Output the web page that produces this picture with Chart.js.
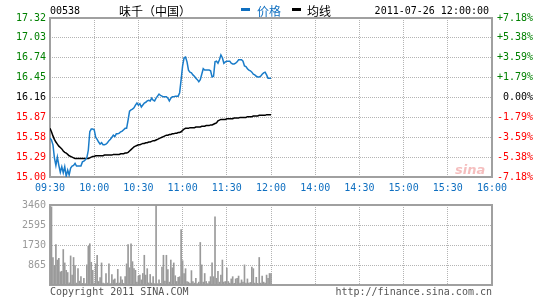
<!DOCTYPE html>
<html><head><meta charset="utf-8">
<script src="https://cdn.jsdelivr.net/npm/chart.js@4/dist/chart.umd.min.js"></script>
<style>
html,body{margin:0;padding:0;background:#fff;}
#wrap{position:relative;width:545px;height:300px;overflow:hidden;background:#fff;}
canvas{position:absolute;left:0;}
.t{position:absolute;white-space:nowrap;font-family:"DejaVu Sans Mono",monospace;font-size:10px;line-height:10px;}
.c{position:absolute;white-space:nowrap;font-family:"Noto Sans CJK SC",sans-serif;font-size:12px;line-height:12px;}
.bar{position:absolute;height:3px;width:9px;}
</style></head><body>
<div id="wrap">
<canvas id="pc" width="545" height="195" style="top:0"></canvas>
<canvas id="vc" width="545" height="105" style="top:195px"></canvas>
<div class="t" style="left:50px;top:6px;color:#000">00538</div>
<div class="c" style="left:119px;top:5px;color:#000">味千（中国）</div>
<div class="bar" style="left:241px;top:8px;background:#0f6fc0"></div>
<div class="c" style="left:257px;top:5px;color:#0f6fc0">价格</div>
<div class="bar" style="left:292px;top:8px;background:#000"></div>
<div class="c" style="left:307px;top:5px;color:#000">均线</div>
<div class="t" style="right:56px;top:6px;color:#000">2011-07-26 12:00:00</div>
<div class="t" style="left:50px;top:287px;color:#555">Copyright 2011 SINA.COM</div>
<div class="t" style="right:53px;top:287px;color:#555">http://finance.sina.com.cn</div>
<div style="position:absolute;left:455px;top:163px;font-family:'DejaVu Sans',sans-serif;font-style:italic;font-weight:bold;font-size:13px;line-height:13px;color:rgba(225,70,70,0.35)">sina</div>
</div>
<script>
const timeLabels = ['09:30','10:00','10:30','11:00','11:30','12:00','14:00','14:30','15:00','15:30','16:00'];
const priceTicks = [15.00,15.29,15.58,15.87,16.16,16.45,16.74,17.03,17.32];
const pctLabels = ['-7.18%','-5.38%','-3.59%','-1.79%','0.00%','+1.79%','+3.59%','+5.38%','+7.18%'];
const prevClose = 16.16;
const volTicks = [0,865,1730,2595,3460];

const priceVals = [
15.57,15.54,15.47,15.28,15.17,15.29,15.17,15.07,15.15,15.06,
15.15,15.01,15.10,15.03,15.13,15.16,15.17,15.20,15.16,15.16,
15.16,15.16,15.22,15.23,15.25,15.28,15.39,15.66,15.70,15.70,
15.69,15.58,15.55,15.51,15.48,15.50,15.47,15.47,15.48,15.50,
15.53,15.55,15.58,15.61,15.59,15.63,15.63,15.64,15.66,15.67,
15.69,15.71,15.71,15.83,15.96,15.98,15.99,16.01,16.05,16.08,
16.05,16.07,16.02,16.05,16.08,16.09,16.11,16.12,16.11,16.15,
16.12,16.11,16.15,16.18,16.21,16.19,16.18,16.17,16.17,16.17,
16.15,16.11,16.15,16.17,16.17,16.18,16.18,16.18,16.23,16.42,
16.62,16.74,16.75,16.68,16.56,16.53,16.52,16.49,16.47,16.44,
16.42,16.39,16.42,16.50,16.58,16.56,16.56,16.56,16.56,16.55,
16.46,16.47,16.68,16.69,16.66,16.71,16.78,16.74,16.66,16.68,
16.69,16.69,16.69,16.66,16.65,16.65,16.66,16.68,16.71,16.71,
16.71,16.69,16.62,16.61,16.58,16.56,16.55,16.53,16.50,16.49,
16.47,16.46,16.46,16.47,16.50,16.52,16.53,16.49,16.44,16.44,
16.44];

const avgVals = [
15.71,15.66,15.60,15.55,15.51,15.48,15.45,15.43,15.41,15.38,
15.36,15.35,15.33,15.31,15.30,15.29,15.28,15.27,15.27,15.27,
15.27,15.27,15.27,15.27,15.27,15.27,15.27,15.28,15.29,15.30,
15.30,15.31,15.31,15.31,15.31,15.31,15.31,15.32,15.32,15.32,
15.32,15.32,15.32,15.33,15.33,15.33,15.33,15.33,15.34,15.34,
15.34,15.35,15.35,15.36,15.38,15.40,15.42,15.44,15.45,15.46,
15.47,15.47,15.48,15.49,15.49,15.50,15.50,15.51,15.51,15.52,
15.53,15.53,15.54,15.55,15.56,15.57,15.58,15.59,15.60,15.61,
15.61,15.62,15.62,15.63,15.63,15.64,15.64,15.65,15.65,15.66,
15.68,15.70,15.71,15.71,15.71,15.72,15.72,15.72,15.72,15.73,
15.73,15.73,15.73,15.74,15.74,15.74,15.75,15.75,15.75,15.76,
15.76,15.77,15.78,15.79,15.82,15.83,15.84,15.84,15.84,15.84,
15.85,15.85,15.85,15.85,15.85,15.86,15.86,15.86,15.86,15.87,
15.87,15.87,15.87,15.87,15.88,15.88,15.88,15.88,15.89,15.89,
15.89,15.89,15.90,15.90,15.90,15.90,15.90,15.91,15.91,15.91,
15.91];

const volVals = [
0,3380,1190,843,1743,1080,1150,568,595,1535,
955,636,540,90,1258,429,1190,843,83,706,
166,360,70,290,60,870,1674,1785,983,636,
83,913,1286,152,320,955,83,60,498,83,
913,60,456,221,263,80,676,83,360,221,
70,360,913,1743,747,1785,1010,706,636,124,
387,429,221,498,1286,429,706,90,456,83,
360,60,3460,60,221,70,775,1286,166,1286,
664,124,1080,747,955,401,152,332,360,2394,
1051,498,706,152,124,70,622,152,83,290,
60,124,1840,870,124,498,152,60,152,360,
955,360,2947,290,595,124,429,1080,124,152,
734,152,83,263,360,70,263,290,387,80,
221,124,870,83,263,83,110,775,706,83,
332,70,1190,83,387,124,80,429,290,498,
498];

const MONO = {family:'DejaVu Sans Mono', size:10};
const GRID = '#b4b4b4';

const frame = {id:'frame', beforeDatasetsDraw(chart){
  const {ctx, chartArea:a} = chart;
  ctx.save(); ctx.strokeStyle='#a0a0a0'; ctx.lineWidth=2;
  ctx.strokeRect(a.left, a.top, a.right-a.left, a.bottom-a.top);
  ctx.restore();
}};

function priceColor(c){
  const v = c.tick.value;
  if (Math.abs(v-prevClose) < 0.001) return '#000000';
  return v > prevClose ? '#008000' : '#ff0000';
}

new Chart(document.getElementById('pc'), {
  type:'line',
  data:{datasets:[
    {data: priceVals.map((v,i)=>({x:i,y:v})), borderColor:'#1a7cc9', borderWidth:1.5, pointRadius:0, tension:0, fill:false},
    {data: avgVals.map((v,i)=>({x:i,y:v})), borderColor:'#000000', borderWidth:1.5, pointRadius:0, tension:0, fill:false}
  ]},
  options:{
    responsive:false, animation:false, events:[],
    layout:{padding:{top:18,left:0,right:12,bottom:0}},
    plugins:{legend:{display:false}, tooltip:{enabled:false}},
    scales:{
      x:{type:'linear', min:0, max:300,
        afterBuildTicks: ax => { ax.ticks = timeLabels.map((_,i)=>({value:i*30})); },
        ticks:{autoSkip:false, maxRotation:0, padding:5, color:'#0f6fc0', font:MONO, callback:(v,i)=>timeLabels[i]},
        grid:{color:GRID, drawTicks:false, lineWidth:1},
        border:{display:false, dash:[1,1]},
        afterFit: s => { s.height = 18; }
      },
      y:{type:'linear', position:'left', min:15.00, max:17.32,
        afterBuildTicks: ax => { ax.ticks = priceTicks.map(v=>({value:v})); },
        ticks:{autoSkip:false, padding:4, color:priceColor, font:MONO, callback:v=>v.toFixed(2)},
        grid:{color:GRID, drawTicks:false, lineWidth:1},
        border:{display:false, dash:[1,1]},
        afterFit: s => { s.width = 50; }
      },
      y2:{type:'linear', position:'right', min:15.00, max:17.32,
        afterBuildTicks: ax => { ax.ticks = priceTicks.map(v=>({value:v})); },
        ticks:{autoSkip:false, padding:4, crossAlign:'far', color:priceColor, font:MONO, callback:(v,i)=>pctLabels[i]},
        grid:{drawOnChartArea:false, drawTicks:false},
        border:{display:false},
        afterFit: s => { s.width = 41; }
      }
    }
  },
  plugins:[frame]
});

new Chart(document.getElementById('vc'), {
  type:'bar',
  data:{datasets:[
    {data: volVals.map((v,i)=>({x:i,y:v})), backgroundColor:'#9a9a9a', barThickness:1, borderWidth:0}
  ]},
  options:{
    responsive:false, animation:false, events:[],
    layout:{padding:{top:7,left:0,right:53,bottom:15}},
    plugins:{legend:{display:false}, tooltip:{enabled:false}},
    scales:{
      x:{type:'linear', min:0, max:300, offset:false,
        afterBuildTicks: ax => { ax.ticks = timeLabels.map((_,i)=>({value:i*30})); },
        ticks:{display:false},
        grid:{color:GRID, drawTicks:false, lineWidth:1, offset:false},
        border:{display:false, dash:[1,1]},
        afterFit: s => { s.height = 0; }
      },
      y:{type:'linear', position:'left', min:0, max:3460,
        afterBuildTicks: ax => { ax.ticks = volTicks.map(v=>({value:v})); },
        ticks:{autoSkip:false, padding:4, color:'#999999', font:MONO, callback:v => v===0 ? '' : String(v)},
        grid:{color:GRID, drawTicks:false, lineWidth:1},
        border:{display:false, dash:[1,1]},
        afterFit: s => { s.width = 50; }
      }
    }
  },
  plugins:[frame]
});
</script>
</body></html>
